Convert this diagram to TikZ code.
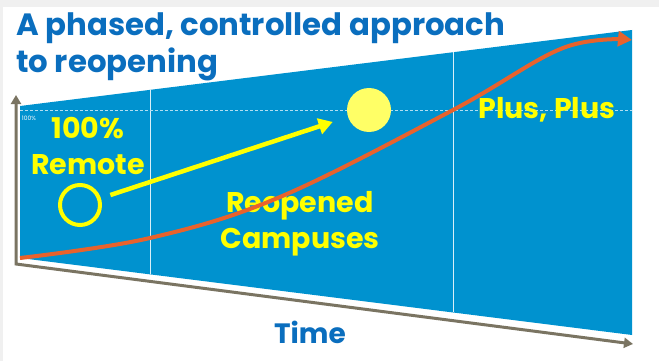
\documentclass[tikz,border=0pt]{standalone}
\usepackage{fontspec}
\setmainfont{Poppins}
\usepackage{xcolor}
\usepackage{tikz}
\usetikzlibrary{arrows.meta}

\definecolor{chartblue}{RGB}{0,146,207}
\definecolor{titleblue}{RGB}{10,110,190}
\definecolor{textyellow}{RGB}{255,255,0}
\definecolor{sunyellow}{RGB}{255,255,102}
\definecolor{curveorange}{RGB}{232,98,44}
\definecolor{axisgray}{RGB}{122,116,98}
\definecolor{edgegray}{RGB}{240,240,240}

\begin{document}
\begin{tikzpicture}[x=1pt, y=-1pt,
  phase/.style={text=textyellow, font=\bfseries\fontsize{28.5}{36}\selectfont, align=center, inner sep=0pt},
  heading/.style={text=titleblue, font=\bfseries\fontsize{30.8}{37}\selectfont, align=left, inner sep=0pt}]
\useasboundingbox (0,0) rectangle (659,361);
\fill[edgegray] (0,0) rectangle (659,7);
\fill[edgegray] (0,0) rectangle (3,361);

% chart area
\fill[chartblue] (20,106) -- (632,30) -- (632,335) -- (20,258) -- cycle;
\draw[white!85!chartblue, line width=1pt] (150,90) -- (150,274);
\draw[white!85!chartblue, line width=1pt] (453,52) -- (453,312);
\draw[white!70!chartblue, line width=0.8pt, dash pattern=on 3pt off 2pt] (20,110) -- (632,110);

% axes
\coordinate (origin) at (16,264);
\coordinate (ytip) at (16,95);
\coordinate (xtip) at (633,344);
\draw[axisgray, line width=3pt, {Triangle[length=9pt,width=10pt]}-{Triangle[length=9pt,width=10pt]}] (ytip) -- (origin) -- (xtip);

% labels
\node (pct) [white, font=\fontsize{6}{7}\selectfont, inner sep=0pt] at (29,118) {100\%};
\node (remote) [phase] at (88,146) {100\%\\Remote};
\node (reopened) [phase] at (300,224) {Reopened\\Campuses};
\node (plus) [phase] at (547,110) {Plus, Plus};
\node (time) [text=titleblue, font=\bfseries\fontsize{28}{32}\selectfont, inner sep=0pt] at (310,332) {Time};
\node (title) [heading, anchor=north west] at (16,13) {A phased, controlled approach\\to reopening};

% markers
\node (ring) [draw=textyellow, line width=4pt, circle, minimum size=40pt, inner sep=0pt] at (80,205) {};
\node (sun) [fill=sunyellow, circle, minimum size=44pt, inner sep=0pt] at (369,110) {};
\draw[textyellow, line width=4.5pt, -{Triangle[length=14pt,width=16pt]}, shorten <=10pt, shorten >=16pt] (ring) -- (sun);

% adoption curve
\coordinate (start) at (20,258);
\coordinate (finish) at (632,40);
\draw[curveorange, line width=4pt, -{Triangle[length=14pt,width=15pt]}] plot[smooth, tension=0.6] coordinates {(start) (150,238) (280,197) (453,110) (563,48) (finish)};

\end{tikzpicture}
\end{document}
